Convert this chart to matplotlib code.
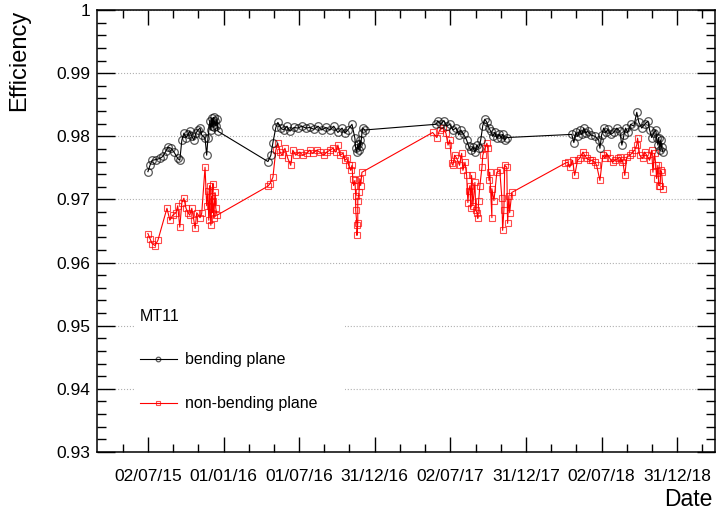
import numpy as np
import matplotlib
matplotlib.use("Agg")
import matplotlib.pyplot as plt
import matplotlib.dates as mdates
from matplotlib.patches import Rectangle
from matplotlib.ticker import FixedLocator, MultipleLocator, FuncFormatter

plt.rcParams['font.family'] = ['Liberation Sans', 'DejaVu Sans']

# days counted from 02/07/2015
start = np.datetime64('2015-07-02')

bend_day = [0, 5, 10, 19, 29, 36, 43, 48, 56, 63, 72, 77, 82, 87, 92, 97, 101, 106, 111, 116,
            121, 126, 130, 138, 142, 145, 150, 152, 155, 155, 157, 159, 159, 162, 164, 167, 169,
            290, 297, 302, 309, 314, 321, 328, 336, 343, 353, 362, 372, 382, 391, 401, 411, 420,
            430, 440, 449, 459, 469, 476, 483, 493, 500, 502, 505, 507, 510, 512, 514, 517, 519, 524,
            696, 700, 708, 715, 722, 729, 737, 744, 751, 756, 763, 770, 775, 780, 785, 790, 795, 799,
            804, 809, 814, 819, 824, 828, 833, 838, 843, 848, 853, 857, 862, 867,
            1024, 1029, 1034, 1038, 1043, 1048, 1053, 1058, 1063, 1070, 1080, 1089, 1092, 1096, 1101,
            1106, 1111, 1118, 1125, 1133, 1140, 1145, 1150, 1154, 1159, 1166, 1174, 1181, 1186, 1193,
            1200, 1208, 1212, 1217, 1222, 1227, 1229, 1232, 1234, 1237, 1239, 1241, 1244]
bend_eff = [0.9744, 0.9754, 0.9762, 0.9763, 0.9765, 0.9768, 0.9776, 0.9783, 0.9781, 0.9775,
            0.9765, 0.9762, 0.9794, 0.9805, 0.9798, 0.9803, 0.9808, 0.9800, 0.9794, 0.9805,
            0.9810, 0.9813, 0.9802, 0.9797, 0.9770, 0.9797, 0.9825, 0.9810, 0.9829, 0.9816,
            0.9822, 0.9830, 0.9814, 0.9824, 0.9817, 0.9827, 0.9808,
            0.9760, 0.9770, 0.9790, 0.9814, 0.9822, 0.9813, 0.9810, 0.9816, 0.9808, 0.9814,
            0.9813, 0.9816, 0.9813, 0.9814, 0.9811, 0.9816, 0.9810, 0.9814, 0.9810, 0.9816,
            0.9806, 0.9813, 0.9805, 0.9810, 0.9819, 0.9797, 0.9781, 0.9775, 0.9787, 0.9778,
            0.9794, 0.9784, 0.9805, 0.9813, 0.9810,
            0.9819, 0.9824, 0.9819, 0.9825, 0.9816, 0.9819, 0.9810, 0.9813, 0.9802, 0.9810,
            0.9803, 0.9794, 0.9784, 0.9778, 0.9783, 0.9775, 0.9786, 0.9781, 0.9794, 0.9817,
            0.9827, 0.9822, 0.9813, 0.9808, 0.9800, 0.9806, 0.9797, 0.9803, 0.9798, 0.9803,
            0.9794, 0.9798,
            0.9803, 0.9790, 0.9806, 0.9800, 0.9810, 0.9803, 0.9813, 0.9805, 0.9808, 0.9802,
            0.9800, 0.9794, 0.9781, 0.9802, 0.9813, 0.9806, 0.9811, 0.9803, 0.9806, 0.9813,
            0.9808, 0.9786, 0.9802, 0.9813, 0.9806, 0.9819, 0.9816, 0.9838, 0.9822, 0.9813,
            0.9819, 0.9824, 0.9810, 0.9798, 0.9805, 0.9810, 0.9797, 0.9786, 0.9798, 0.9778,
            0.9794, 0.9783, 0.9775]

nonbend_day = [0, 5, 10, 17, 24, 46, 53, 60, 68, 72, 77, 82, 87, 92, 97, 101, 106, 111, 114, 118,
               126, 130, 138, 142, 145, 147, 150, 150, 152, 155, 155, 157, 157, 159, 162, 164, 167,
               290, 295, 302, 309, 314, 319, 324, 331, 338, 345, 350, 357, 367, 374, 384, 391, 398,
               408, 415, 425, 432, 440, 447, 454, 459, 464, 471, 476, 481, 485, 490, 493, 495, 497,
               500, 502, 502, 505, 505, 507, 507, 510, 512, 514, 517,
               688, 698, 705, 712, 720, 725, 729, 734, 737, 741, 746, 753, 758, 761, 766, 770, 773,
               775, 778, 780, 782, 785, 790, 792, 795, 797, 799, 802, 807, 809, 814, 819, 821, 824,
               826, 831, 831, 836, 843, 850, 855, 857, 860, 862, 867, 869, 872, 874, 879,
               1007, 1014, 1019, 1026, 1031, 1038, 1043, 1051, 1055, 1060, 1067, 1072, 1080, 1084,
               1092, 1099, 1104, 1108, 1116, 1123, 1128, 1135, 1140, 1145, 1147, 1152, 1157, 1164,
               1169, 1176, 1181, 1183, 1188, 1195, 1200, 1205, 1212, 1217, 1220, 1224, 1227, 1229,
               1232, 1234, 1237, 1239, 1241, 1244]
nonbend_eff = [0.9646, 0.9638, 0.9630, 0.9627, 0.9635, 0.9686, 0.9667, 0.9675, 0.9679, 0.9690,
               0.9656, 0.9695, 0.9702, 0.9686, 0.9679, 0.9675, 0.9686, 0.9667, 0.9654, 0.9679,
               0.9671, 0.9678, 0.9751, 0.9690, 0.9714, 0.9667, 0.9722, 0.9690, 0.9659, 0.9706,
               0.9679, 0.9725, 0.9698, 0.9670, 0.9711, 0.9686, 0.9675,
               0.9721, 0.9725, 0.9735, 0.9778, 0.9789, 0.9775, 0.9770, 0.9781, 0.9765, 0.9754,
               0.9778, 0.9770, 0.9775, 0.9770, 0.9773, 0.9778, 0.9773, 0.9778, 0.9775, 0.9770,
               0.9775, 0.9778, 0.9781, 0.9775, 0.9786, 0.9770, 0.9773, 0.9762, 0.9765, 0.9754,
               0.9746, 0.9754, 0.9733, 0.9722, 0.9730, 0.9706, 0.9683, 0.9659, 0.9643, 0.9663,
               0.9698, 0.9711, 0.9733, 0.9722, 0.9743,
               0.9806, 0.9798, 0.9810, 0.9813, 0.9805, 0.9786, 0.9794, 0.9757, 0.9754, 0.9770,
               0.9765, 0.9754, 0.9773, 0.9746, 0.9759, 0.9738, 0.9695, 0.9714, 0.9722, 0.9686,
               0.9738, 0.9690, 0.9727, 0.9683, 0.9679, 0.9670, 0.9698, 0.9722, 0.9751, 0.9770,
               0.9781, 0.9789, 0.9781, 0.9730, 0.9743, 0.9671, 0.9717, 0.9698, 0.9743, 0.9746,
               0.9703, 0.9651, 0.9683, 0.9754, 0.9751, 0.9662, 0.9706, 0.9679, 0.9711,
               0.9757, 0.9759, 0.9751, 0.9762, 0.9738, 0.9762, 0.9765, 0.9775, 0.9770, 0.9765,
               0.9762, 0.9762, 0.9759, 0.9754, 0.9730, 0.9770, 0.9765, 0.9773, 0.9765, 0.9759,
               0.9762, 0.9765, 0.9767, 0.9759, 0.9762, 0.9738, 0.9767, 0.9770, 0.9773, 0.9778,
               0.9786, 0.9797, 0.9770, 0.9765, 0.9775, 0.9770, 0.9762, 0.9778, 0.9743, 0.9773,
               0.9754, 0.9733, 0.9754, 0.9722, 0.9722, 0.9746, 0.9743, 0.9717]

tick_dates = ['2015-07-02', '2016-01-01', '2016-07-01', '2016-12-31',
              '2017-07-02', '2017-12-31', '2018-07-02', '2018-12-31']
tick_labels = ['02/07/15', '01/01/16', '01/07/16', '31/12/16',
               '02/07/17', '31/12/17', '02/07/18', '31/12/18']


def to_dates(days):
    return start + np.array(days).astype('timedelta64[D]')


fig = plt.figure(figsize=(7.17, 5.18), dpi=100)
ax = fig.add_axes([97 / 717, 1 - 452 / 518, 618 / 717, 442 / 518])

ax.plot(to_dates(bend_day), bend_eff, color='black', lw=0.8, marker='o', ms=5.5,
        mfc='none', mec=(0, 0, 0, 0.65), mew=0.9, label='bending plane', zorder=4)
ax.plot(to_dates(nonbend_day), nonbend_eff, color='red', lw=0.8, marker='s', ms=5,
        mfc='none', mec=(1, 0, 0, 0.7), mew=0.8, label='non-bending plane', zorder=3)

# axis ranges
ax.set_xlim(np.datetime64('2015-03-01'), np.datetime64('2019-04-02'))
ax.set_ylim(0.93, 1.0)

# x ticks like the ROOT time axis
major = mdates.date2num(np.array(tick_dates, dtype='datetime64[D]'))
step = np.mean(np.diff(major))
minor = [major[0] - step / 3]
for m in major:
    minor += [m + step / 3, m + 2 * step / 3]
ax.xaxis.set_major_locator(FixedLocator(major))
ax.xaxis.set_minor_locator(FixedLocator(minor))
ax.set_xticklabels(tick_labels)

ax.yaxis.set_major_locator(MultipleLocator(0.01))
ax.yaxis.set_minor_locator(MultipleLocator(0.002))
ax.yaxis.set_major_formatter(FuncFormatter(lambda v, p: '%g' % round(v, 3)))

ax.tick_params(which='both', direction='in', top=True, right=True, width=1.0, labelsize=12.5)
ax.tick_params(axis='y', which='major', length=13, pad=5)
ax.tick_params(axis='y', which='minor', length=6.5)
ax.tick_params(axis='x', which='major', length=11, pad=12)
ax.tick_params(axis='x', which='minor', length=5.5)
for s in ax.spines.values():
    s.set_linewidth(1.1)

ax.grid(axis='y', which='major', color='#b0b0b0', lw=0.8, ls=':')
ax.set_axisbelow(True)

fig.text(19 / 717, 1 - 10 / 518, 'Efficiency', rotation=90, ha='center', va='top', fontsize=17)
fig.text(712 / 717, 1 - 500 / 518, 'Date', ha='right', va='center', fontsize=16.5)

# white legend pad hiding the grid
ax.add_patch(Rectangle((0.0615, 0.072), 0.34, 0.276, transform=ax.transAxes,
                       facecolor='white', edgecolor='none', zorder=1.5))

leg = ax.legend(loc='upper left', bbox_to_anchor=(0.0615, 0.335), title='MT11',
                fontsize=11.5, title_fontsize=11.5, frameon=False,
                handlelength=2.3, handletextpad=0.5, labelspacing=1.8,
                markerscale=0.6, borderpad=0.3, borderaxespad=0)
leg._legend_box.align = 'left'
leg.set_zorder(2)

fig.savefig('out.png', dpi=100)
